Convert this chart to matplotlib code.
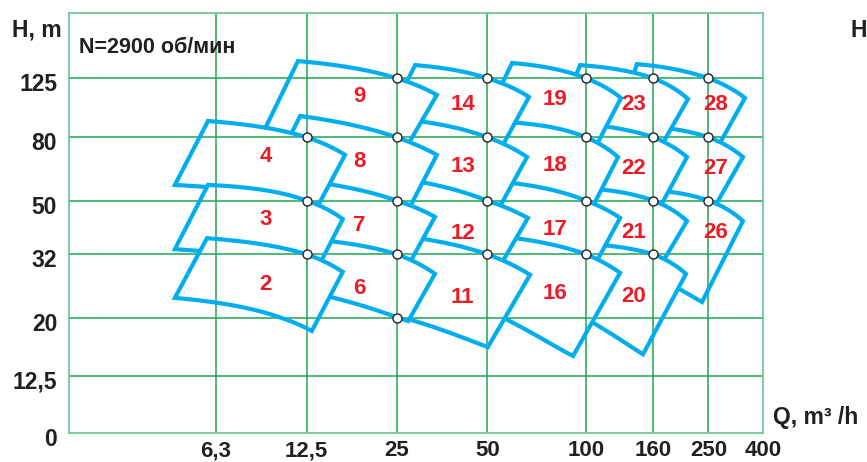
import numpy as np
import matplotlib
matplotlib.use("Agg")
import matplotlib.pyplot as plt
from matplotlib.patches import Polygon
from matplotlib.ticker import NullLocator
from matplotlib.transforms import ScaledTranslation

# ------------------------------------------------------------------ data
q_ticks = [6.3, 12.5, 25, 50, 100, 160, 250, 400]
q_tick_labels = ["6,3", "12,5", "25", "50", "100", "160", "250", "400"]
h_ticks = [0, 12.5, 20, 32, 50, 80, 125]
h_tick_labels = ["0", "12,5", "20", "32", "50", "80", "125"]

region_ids = [2, 3, 4, 6, 7, 8, 9, 11, 12, 13, 14, 16, 17, 18, 19, 20, 21, 22, 23, 26, 27, 28]
pump_group = [1, 1, 1, 2, 2, 2, 2, 3, 3, 3, 3, 4, 4, 4, 4, 5, 5, 5, 5, 6, 6, 6]

# top curve (max impeller): left end, nominal point, right end
tl_q = [5.87, 5.92, 5.92, 11.6, 11.7, 11.9, 11.7, 27.7, 27.7, 27.7, 28.8,
        56.6, 56.6, 56.6, 59.5, 101.4, 99.3, 99.3, 95.9, 154.0, 154.0, 142.6]
tl_h = [36.6, 56.2, 90.5, 36.6, 58.3, 94.0, 141.6, 37.0, 58.3, 91.2, 137.5,
        37.0, 57.4, 89.8, 139.6, 34.9, 54.9, 88.5, 137.5, 54.1, 87.1, 138.5]
tm_q = [12.5, 12.5, 12.5, 25, 25, 25, 25, 50, 50, 50, 50,
        100, 100, 100, 100, 160, 160, 160, 160, 250, 250, 250]
tm_h = [32, 50, 80, 32, 50, 80, 125, 32, 50, 80, 125,
        32, 50, 80, 125, 32, 50, 80, 125, 50, 80, 125]
tr_q = [16.5, 16.5, 16.8, 33.5, 33.5, 34.0, 34.0, 67.5, 66.5, 66.1, 67.0,
        126.8, 126.8, 125.0, 127.6, 208.3, 210.0, 210.0, 211.7, 336.5, 336.5, 342.4]
tr_h = [28.1, 42.9, 70.2, 27.7, 43.7, 70.2, 110.2, 27.5, 43.3, 69.1, 108.5,
        27.9, 43.3, 69.1, 107.7, 27.7, 42.2, 69.1, 106.9, 42.2, 69.1, 107.7]
# bottom curve (min impeller): right end, middle, left end
br_q = [13.0, 13.6, 13.4, 27.3, 26.8, 27.1, 26.6, 50.2, 54.7, 53.9, 54.7,
        91.3, 105.0, 104.3, 105.7, 148.7, 167.3, 168.7, 168.7, 237.2, 262.2, 266.8]
br_h = [18.0, 28.9, 46.3, 19.5, 28.5, 45.5, 72.8, 15.8, 29.4, 46.3, 72.8,
        14.7, 28.9, 47.1, 72.8, 14.9, 28.9, 47.4, 73.9, 22.5, 47.1, 72.8]
bm_q = [8.14, 8.14, 8.14, 17.4, 16.2, 16.2, 15.0, 36.7, 34.8, 34.8, 34.8,
        70.9, 72.4, 72.4, 72.4, 118.2, 122.4, 122.4, 122.4, 200.0, 198.4, 185.9]
bm_h = [21.4, 31.6, 53.3, 22.5, 33.7, 54.1, 78.4, 17.9, 32.6, 53.3, 84.5,
        17.3, 32.6, 52.9, 82.6, 17.7, 32.6, 51.8, 82.6, 24.6, 50.3, 82.6]
bl_q = [4.57, 4.57, 4.57, 11.0, 9.32, 9.32, 8.91, 25.25, 22.8, 22.8, 22.8,
        50.9, 48.0, 48.0, 48.0, 92.6, 83.3, 83.3, 83.3, 145.6, 128.5, 128.5]
bl_h = [23.2, 33.4, 56.2, 24.9, 36.0, 58.3, 81.4, 20.3, 34.6, 56.2, 87.8,
        21.1, 34.6, 57.0, 87.8, 20.9, 36.6, 60.5, 94.7, 28.5, 62.8, 98.4]

label_q = [9.18, 9.18, 9.18, 18.7, 18.7, 18.7, 18.7, 41.4, 41.4, 41.4, 41.4,
           80.7, 80.7, 80.7, 80.7, 139.4, 139.4, 139.4, 139.4, 266.8, 266.8, 266.8]
label_h = [25.6, 42.6, 69.6, 24.8, 40.8, 66.8, 108.9, 23.3, 38.2, 64.3, 102.9,
           23.9, 39.4, 65.1, 106.5, 23.4, 38.3, 63.6, 102.9, 38.3, 63.6, 102.9]

point_q = [12.5, 12.5, 12.5, 25, 25, 25, 25, 25, 50, 50, 50, 50,
           100, 100, 100, 100, 160, 160, 160, 160, 250, 250, 250]
point_h = [32, 50, 80, 20, 32, 50, 80, 125, 32, 50, 80, 125,
           32, 50, 80, 125, 32, 50, 80, 125, 50, 80, 125]

# ------------------------------------------------------------------ style
BLUE = "#00aeef"
RED = "#ed1c24"
GRID = "#1ea550"
FRAME = "#72c997"
INK = "#231f20"
plt.rcParams["font.family"] = ["Liberation Sans", "DejaVu Sans"]
plt.rcParams["font.weight"] = "bold"
plt.rcParams["axes.labelweight"] = "bold"

# ------------------------------------------------------------------ axis scales (chart's own nominal grid)
X_ANCH_Q = np.array([2, 6.3, 12.5, 25, 50, 100, 160, 250, 400])
X_ANCH_POS = np.array([0, 147, 237.7, 327.7, 418.3, 517, 584.5, 639.5, 694])
Y_ANCH_H = np.array([0, 12.5, 20, 32, 50, 80, 125, 200])
Y_ANCH_POS = np.array([0, 57.3, 115.3, 179, 232.6, 296, 355, 420])


def _interp(x, xp, fp):
    x = np.asarray(x, float)
    y = np.interp(x, xp, fp)
    y = np.where(x < xp[0], fp[0] + (x - xp[0]) * (fp[1] - fp[0]) / (xp[1] - xp[0]), y)
    y = np.where(x > xp[-1], fp[-1] + (x - xp[-1]) * (fp[-1] - fp[-2]) / (xp[-1] - xp[-2]), y)
    return y


LQ = np.log10(X_ANCH_Q)


def fx(q):
    return _interp(np.log10(np.clip(np.asarray(q, float), 1e-9, None)), LQ, X_ANCH_POS)


def fx_inv(p):
    return 10 ** _interp(p, X_ANCH_POS, LQ)


L125 = np.log10(12.5)


def _g(h):
    h = np.asarray(h, float)
    return np.where(h >= 12.5, np.log10(np.clip(h, 12.5, None)), L125 - (12.5 - h) / 12.5 * 0.2)


def _g_inv(v):
    v = np.asarray(v, float)
    return np.where(v >= L125, 10 ** np.maximum(v, L125), 12.5 - (L125 - v) / 0.2 * 12.5)


GY = _g(Y_ANCH_H)


def fy(h):
    return _interp(_g(h), GY, Y_ANCH_POS)


def fy_inv(p):
    return _g_inv(_interp(p, Y_ANCH_POS, GY))


# ------------------------------------------------------------------ figure
fig = plt.figure(figsize=(8.67, 4.62), dpi=100)
ax = fig.add_axes([69 / 867, 1 - 433.3 / 462, 694 / 867, 420 / 462])
ax.set_xscale("function", functions=(fx, fx_inv))
ax.set_yscale("function", functions=(fy, fy_inv))
ax.set_xlim(2, 400)
ax.set_ylim(0, 200)

grid_q = q_ticks[:-1]
grid_h = h_ticks[1:]
GRID_LW = 1.1


def draw_grid(z, clip=None):
    vl = ax.vlines(grid_q, 0, 200, colors=GRID, lw=GRID_LW, zorder=z)
    hl = ax.hlines(grid_h, 2, 400, colors=GRID, lw=GRID_LW, zorder=z)
    if clip is not None:
        vl.set_clip_path(clip)
        hl.set_clip_path(clip)


draw_grid(0.5)


def curve(qs, hs, n=50):
    c = np.polyfit(qs, hs, 2)
    qq = np.geomspace(qs[0], qs[-1], n)
    return qq, np.polyval(c, qq)


order = sorted(range(len(region_ids)), key=lambda i: (-pump_group[i], -tm_h[i]))
for k, i in enumerate(order):
    tq, th = curve([tl_q[i], tm_q[i], tr_q[i]], [tl_h[i], tm_h[i], tr_h[i]])
    bq, bh = curve([br_q[i], bm_q[i], bl_q[i]], [br_h[i], bm_h[i], bl_h[i]])
    verts = np.column_stack([np.concatenate([tq, bq]), np.concatenate([th, bh])])
    z = 2 + 3 * k
    fill = Polygon(verts, closed=True, facecolor="white", edgecolor="none", zorder=z)
    ax.add_patch(fill)
    draw_grid(z + 1, clip=fill)
    ax.add_patch(Polygon(verts, closed=True, fill=False, edgecolor=BLUE, lw=3.0,
                         joinstyle="miter", zorder=z + 2))

for i in range(len(region_ids)):
    ax.text(label_q[i], label_h[i], str(region_ids[i]), color=RED, fontsize=16,
            fontweight="bold", ha="center", va="center", zorder=300)

ax.plot(point_q, point_h, "o", ms=6.5, mfc="white", mec=INK, mew=1.0, zorder=250)

# ------------------------------------------------------------------ axes decoration
for s in ax.spines.values():
    s.set_color(FRAME)
    s.set_linewidth(1.3)
    s.set_zorder(400)

ax.set_xticks(q_ticks, q_tick_labels)
ax.set_yticks(h_ticks, h_tick_labels)
ax.xaxis.set_minor_locator(NullLocator())
ax.yaxis.set_minor_locator(NullLocator())
ax.tick_params(axis="both", length=0, labelcolor=INK)
ax.tick_params(axis="x", pad=5, labelsize=16)
ax.tick_params(axis="y", pad=8.5, labelsize=16.5)
for lbl in ax.get_xticklabels() + ax.get_yticklabels():
    lbl.set_fontweight("bold")
shift = ScaledTranslation(0, -4 / 100, fig.dpi_scale_trans)
for t in ax.yaxis.get_major_ticks():
    t.label1.set_transform(t.label1.get_transform() + shift)

ax.set_ylabel("H, m", rotation=0, fontsize=16.5, fontweight="bold", color=INK,
              ha="left", va="baseline")
ax.yaxis.set_label_coords(-0.082, 0.944)
ax.set_xlabel("Q, m\u00b3 /h", fontsize=16.5, fontweight="bold", color=INK,
              ha="left", va="baseline")
ax.xaxis.set_label_coords(1.014, 0.023)

ax.text(0.015, 0.906, "N=2900 об/мин", transform=ax.transAxes, fontsize=15.5,
        fontweight="bold", color=INK, ha="left", va="baseline", zorder=400)
fig.text(851 / 867, 1 - 36.7 / 462, "H", fontsize=16.5, fontweight="bold",
         color=INK, ha="left", va="baseline")

fig.savefig("out.png", dpi=100)
